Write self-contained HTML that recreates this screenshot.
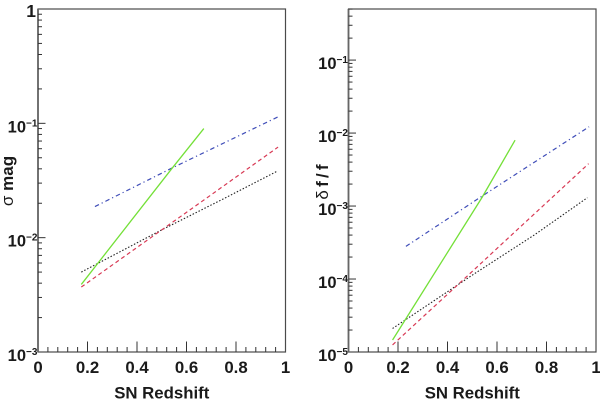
<!DOCTYPE html>
<html>
<head>
<meta charset="utf-8">
<style>
html,body{margin:0;padding:0;background:#fff;width:600px;height:400px;overflow:hidden}
svg{display:block}
text{font-family:"Liberation Sans",sans-serif;font-weight:bold;fill:#1a1a1a}
</style>
</head>
<body>
<svg id="chart" width="600" height="400" viewBox="0 0 600 400" xmlns="http://www.w3.org/2000/svg"></svg>
<script>
const xTickValues = [0, 0.2, 0.4, 0.6, 0.8, 1];
const xTickLabels = ['0', '0.2', '0.4', '0.6', '0.8', '1'];

const leftYDecades = [-3, -2, -1, 0];
const leftYLabels = ['10', '10', '10', '1'];
const leftYExps = ['\u22123', '\u22122', '\u22121', ''];
const rightYDecades = [-5, -4, -3, -2, -1];
const rightYLabels = ['10', '10', '10', '10', '10'];
const rightYExps = ['\u22125', '\u22124', '\u22123', '\u22122', '\u22121'];

const leftGreenZ = [0.175, 0.54, 0.67];
const leftGreenV = [0.0039, 0.04, 0.09];
const leftBlueZ = [0.23, 0.54, 0.97];
const leftBlueV = [0.0187, 0.0405, 0.114];
const leftRedZ = [0.175, 0.5, 0.68, 0.97];
const leftRedV = [0.0037, 0.0117, 0.0221, 0.062];
const leftBlackZ = [0.175, 0.5, 0.75, 0.965];
const leftBlackV = [0.005, 0.0117, 0.0219, 0.038];

const rightGreenZ = [0.178, 0.54, 0.673];
const rightGreenV = [1.46e-5, 1.32e-3, 8.0e-3];
const rightBlueZ = [0.232, 0.54, 0.972];
const rightBlueV = [2.8e-4, 1.37e-3, 1.22e-2];
const rightRedZ = [0.178, 0.5, 0.665, 0.97];
const rightRedV = [1.25e-5, 1.27e-4, 4.2e-4, 3.8e-3];
const rightBlackZ = [0.178, 0.5, 0.75, 0.965];
const rightBlackV = [2.1e-5, 1.13e-4, 4.0e-4, 1.3e-3];

const NS = 'http://www.w3.org/2000/svg';
const root = document.getElementById('chart');

function make(tag, attrs, parent, txt) {
  const el = document.createElementNS(NS, tag);
  for (const k in attrs) el.setAttribute(k, attrs[k]);
  if (txt !== undefined) el.textContent = txt;
  parent.appendChild(el);
  return el;
}

function panel(cfg) {
  const g = make('g', {}, root);
  
  
  const sx = z => cfg.x0 + z * (cfg.x1 - cfg.x0);
  const sy = v => cfg.yb - (Math.log10(v) - cfg.logMin) / (cfg.logMax - cfg.logMin) * (cfg.yb - cfg.yt);
  const axisColor = '#4a4a4a';

  const frame = make('rect', {x: cfg.x0, y: cfg.yt, width: cfg.x1 - cfg.x0, height: cfg.yb - cfg.yt, fill: '#fff', stroke: axisColor, 'stroke-width': 1.2}, g);
  
  
  const yLine = make('line', {x1: cfg.x0, x2: cfg.x0, y1: cfg.yt, y2: cfg.yb, stroke: '#666', 'stroke-width': 1.8}, g);
  
  

  for (let i = 0; i <= 25; i++) {
    const z = i / 25;
    if (z === 0 || z === 1) continue;
    const major = i % 5 === 0;
    const t = make('line', {x1: sx(z), x2: sx(z), y1: cfg.yb, y2: cfg.yb - (major ? 10.5 : 5), stroke: '#333', 'stroke-width': 1}, g);
    
    
  }
  xTickValues.forEach((z, i) => {
    const l = make('text', {x: sx(z), y: 373, 'text-anchor': 'middle', 'font-size': 16.8}, g, xTickLabels[i]);
    
    
  });

  for (let d = Math.floor(cfg.logMin); d < cfg.logMax; d++) {
    for (let m = 1; m <= 9; m++) {
      const v = m * Math.pow(10, d);
      const lv = Math.log10(v);
      if (lv <= cfg.logMin + 1e-6 || lv >= cfg.logMax - 1e-6) continue;
      const y = sy(v);
      const t = make('line', {x1: cfg.x0, x2: cfg.x0 + (m === 1 ? 7.5 : 4), y1: y, y2: y, stroke: '#333', 'stroke-width': 1}, g);
      
      
    }
  }
  cfg.decades.forEach((d, i) => {
    const y = sy(Math.pow(10, d));
    const hasExp = cfg.exps[i] !== '';
    const l = make('text', {x: cfg.x0 - (hasExp ? 12 : 2), y: y + (hasExp ? 9 : 8), 'text-anchor': 'end', 'font-size': hasExp ? 16.5 : 17.5}, g, cfg.labels[i]);
    
    
    if (hasExp) {
      const e = make('text', {x: cfg.x0 - 12, y: y + 3, 'text-anchor': 'start', 'font-size': 10}, g, cfg.exps[i]);
      
      
    }
  });

  const xt = make('text', {x: (cfg.x0 + cfg.x1) / 2, y: 398.5, 'text-anchor': 'middle', 'font-size': 16.8}, g, 'SN Redshift');
  
  
  const yt = make('text', {transform: 'translate(' + cfg.yTitleX + ',' + cfg.yTitleY + ') rotate(-90)', 'text-anchor': 'middle', 'font-size': 17, 'word-spacing': cfg.yTitleSpacing}, g);
  
  
  make('tspan', {'font-weight': 'normal'}, yt, cfg.yTitleSymbol);
  make('tspan', {}, yt, cfg.yTitleRest);

  cfg.series.forEach(s => {
    const pts = s.z.map((z, i) => sx(z).toFixed(2) + ',' + sy(s.v[i]).toFixed(2)).join(' ');
    const attrs = {points: pts, fill: 'none', stroke: s.color, 'stroke-width': s.w};
    if (s.dash) attrs['stroke-dasharray'] = s.dash;
    const p = make('polyline', attrs, g);
    
    
  });
}

panel({
  name: 'left-panel', x0: 38, x1: 285.5, yt: 9, yb: 352, logMin: -3, logMax: 0,
  decades: leftYDecades, labels: leftYLabels, exps: leftYExps,
  yTitleSymbol: '\u03C3', yTitleRest: ' mag', yTitleX: 13, yTitleY: 181, yTitleSpacing: 0,
  series: [
    {name: 'series-black-dotted', z: leftBlackZ, v: leftBlackV, color: '#222', w: 1.1, dash: '1.5 1.8'},
    {name: 'series-red-dashed', z: leftRedZ, v: leftRedV, color: '#d83a55', w: 1.2, dash: '4 3'},
    {name: 'series-blue-dashdot', z: leftBlueZ, v: leftBlueV, color: '#3f4db8', w: 1.2, dash: '4.5 3 1.2 3'},
    {name: 'series-green-solid', z: leftGreenZ, v: leftGreenV, color: '#74e038', w: 1.3}
  ]
});

panel({
  name: 'right-panel', x0: 348.5, x1: 596, yt: 9, yb: 352, logMin: -5, logMax: -0.3,
  decades: rightYDecades, labels: rightYLabels, exps: rightYExps,
  yTitleSymbol: '\u03B4', yTitleRest: ' f / f', yTitleX: 328, yTitleY: 182, yTitleSpacing: -1.5,
  series: [
    {name: 'series-black-dotted', z: rightBlackZ, v: rightBlackV, color: '#222', w: 1.1, dash: '1.5 1.8'},
    {name: 'series-red-dashed', z: rightRedZ, v: rightRedV, color: '#d83a55', w: 1.2, dash: '4 3'},
    {name: 'series-blue-dashdot', z: rightBlueZ, v: rightBlueV, color: '#3f4db8', w: 1.2, dash: '4.5 3 1.2 3'},
    {name: 'series-green-solid', z: rightGreenZ, v: rightGreenV, color: '#74e038', w: 1.3}
  ]
});
</script>
</body>
</html>
